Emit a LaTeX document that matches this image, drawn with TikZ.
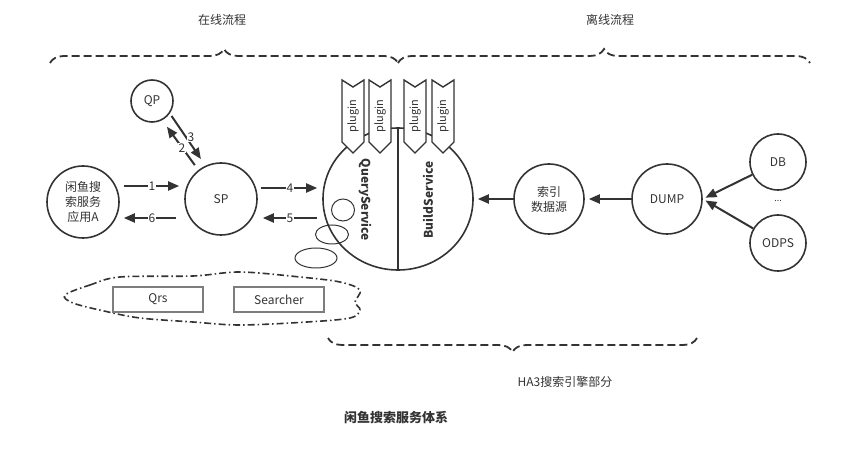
\documentclass[tikz,border=0pt]{standalone}
\usepackage{fontspec}
\setmainfont{Noto Sans CJK SC}
\usetikzlibrary{arrows.meta,decorations.pathreplacing,shapes.geometric}
\definecolor{lineGray}{RGB}{51,51,51}
\definecolor{boxGray}{RGB}{125,125,125}

\begin{document}
\begin{tikzpicture}[x=1pt, y=-1pt, color=lineGray,
    every node/.style={font=\fontsize{12}{15}\selectfont},
    ball/.style={circle, draw, line width=1.6pt, align=center, inner sep=0pt},
    arr/.style={-{Triangle[length=11pt,width=9pt]}, line width=2pt},
    num/.style={fill=white, inner sep=1pt},
    bigbrace/.style={decorate, decoration={brace, amplitude=14pt},
        dash pattern=on 8pt off 4pt, line width=1.8pt},
    tag/.style={draw=boxGray, line width=1.2pt, minimum width=90pt, minimum height=25pt}]
    \useasboundingbox (0,0) rectangle (854,454);

    % braces and titles
    \node (online) at (222,20) {在线流程};
    \node (offline) at (610,20) {离线流程};
    \draw[bigbrace] (50,63) -- (398,63);
    \draw[bigbrace] (398,63) -- (810,63);
    \draw[bigbrace] (697,338) -- (328,338);
    \node (ha3) at (565,382) {HA3搜索引擎部分};
    \node[font=\bfseries\fontsize{13}{15}\selectfont] (title) at (396,418) {闲鱼搜索服务体系};

    % online side
    \node[ball, minimum size=42pt] (QP) at (152,101) {QP};
    \node[ball, minimum size=72pt] (App) at (83,202) {闲鱼搜\\索服务\\应用A};
    \node[ball, minimum size=72pt] (SP) at (221,199) {SP};

    % engine
    \node[ellipse, draw, line width=1.6pt, inner sep=0pt, minimum width=150pt,
        minimum height=142pt] (Svc) at (398,199) {};
    \draw[line width=1.6pt] (Svc.south) -- (Svc.north);
    \foreach \x in {342,369,404,432} {
        \draw[fill=white, line width=1.4pt] (\x,80) -- (\x+11,87) -- (\x+22,80)
            -- (\x+22,142) -- (\x+11,153) -- (\x,142) -- cycle;
        \node[rotate=90, font=\fontsize{11}{11}\selectfont] (plug\x) at (\x+11,116) {plugin};
    }
    \node[rotate=-90, font=\bfseries\fontsize{12}{12}\selectfont] (QS) at (365,200) {QueryService};
    \node[rotate=90, font=\bfseries\fontsize{12}{12}\selectfont] (BS) at (428,200) {BuildService};

    % bubbles and cloud
    \draw[line width=1pt] (343,210) ellipse [x radius=11.5, y radius=11];
    \draw[line width=1pt] (332,234.5) ellipse [x radius=16.5, y radius=9.5];
    \draw[line width=1pt] (316,258) ellipse [x radius=21, y radius=10];
    \draw[dash pattern=on 7pt off 3pt on 1.5pt off 3pt, line width=1.6pt]
        plot[smooth cycle, tension=0.55] coordinates {(65,295) (90,285) (120,277) (193,276)
        (240,272) (300,277) (340,282) (360,290) (355,302) (360,310) (350,318) (307,322)
        (240,325) (193,322) (140,318) (104,311) (73,303)};
    \node[tag] (Qrs) at (158,299.5) {Qrs};
    \node[tag] (Searcher) at (279,299.5) {Searcher};

    % offline side
    \node[ball, minimum size=70pt] (Src) at (549,199) {索引\\数据源};
    \node[ball, minimum size=70pt] (Dump) at (667,199) {DUMP};
    \node[ball, minimum size=56pt] (DB) at (778,162) {DB};
    \node[ball, minimum size=56pt] (ODPS) at (778,243) {ODPS};
    \node[font=\fontsize{9}{9}\selectfont] (dots) at (778,201) {...};

    % connectors
    \draw[arr, shorten <=4pt, shorten >=5pt] ([yshift=16pt]App.east) -- ([yshift=16pt]App.east -| SP.west) node[num, midway] (n1) {1};
    \draw[arr, shorten <=8pt, shorten >=4pt] ([yshift=-19pt]SP.west) -- ([yshift=-19pt]SP.west -| App.east) node[num, midway] (n6) {6};
    \draw[arr, shorten <=3pt, shorten >=5pt] ([yshift=11pt]SP.east) -- ([yshift=11pt]SP.east -| Svc.west) node[num, midway] (n4) {4};
    \draw[arr, shorten <=5pt, shorten >=5pt] ([yshift=-19pt]SP.east -| Svc.west) -- ([yshift=-19pt]SP.east) node[num, midway] (n5) {5};
    \draw[arr, shorten <=6pt, shorten >=8pt] (SP.128) -- (QP.-62);
    \draw[arr, shorten <=3pt, shorten >=8pt] (QP.-35) -- (SP.115);
    \node[num] (n2) at (182,148) {2};
    \node[num] (n3) at (191,137) {3};
    \draw[arr, shorten >=4pt] (Src.west) -- (Src.west -| Svc.east);
    \draw[arr, shorten >=4pt] (Dump.west) -- (Src.east);
    \draw[arr, shorten >=3pt] (DB) -- (Dump.east);
    \draw[arr, shorten >=3pt] (ODPS) -- (Dump.east);
\end{tikzpicture}
\end{document}
